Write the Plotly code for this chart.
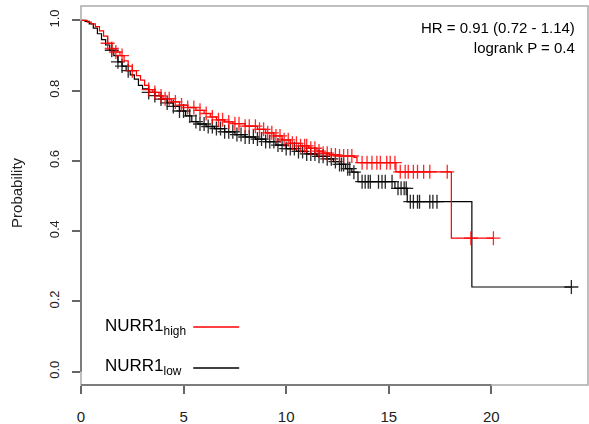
import plotly.graph_objects as go
import bisect

# ---- data ----
high_times = [0, 0.3, 0.5, 0.7, 0.9, 1.1, 1.3, 1.5, 1.7, 1.9, 2.1, 2.3, 2.5, 2.7, 2.9, 3.1, 3.3, 3.5, 3.8, 4.0,
              4.4, 4.8, 5.2, 5.6, 6.0, 6.3, 6.6, 7.0, 7.4, 8.0, 8.6, 9.0, 9.4, 9.8, 10.2, 10.7, 11.1, 11.5,
              11.8, 12.1, 12.6, 13.3, 13.45, 15.35, 18.05]
high_surv = [1.0, 0.995, 0.99, 0.982, 0.97, 0.955, 0.935, 0.92, 0.91, 0.9, 0.885, 0.87, 0.857, 0.843, 0.83,
             0.815, 0.803, 0.795, 0.785, 0.777, 0.768, 0.759, 0.752, 0.744, 0.735, 0.725, 0.717, 0.711, 0.706,
             0.699, 0.69, 0.68, 0.671, 0.66, 0.65, 0.643, 0.636, 0.628, 0.622, 0.617, 0.614, 0.61, 0.595,
             0.569, 0.38]
high_end = 20.1
high_censor = [1.3, 1.5, 1.7, 2.0, 2.5, 3.3, 3.6, 3.9, 4.1, 4.3, 4.6, 4.9, 5.2, 5.5, 5.8, 6.1, 6.4, 6.7, 6.9,
               7.2, 7.5, 7.7, 8.0, 8.2, 8.5, 8.7, 8.9, 9.1, 9.3, 9.5, 9.7, 9.9, 10.1, 10.3, 10.5, 10.7, 10.9,
               11.0, 11.2, 11.4, 11.6, 11.8, 12.0, 12.2, 12.4, 12.6, 12.8, 13.0, 13.2, 13.7, 13.94, 14.18,
               14.42, 14.59, 14.9, 15.07, 15.3, 15.56, 15.8, 15.95, 16.2, 16.4, 16.7, 17.0, 17.85, 19.0, 20.1]

low_times = [0, 0.2, 0.4, 0.6, 0.8, 1.0, 1.2, 1.4, 1.6, 1.8, 2.0, 2.2, 2.4, 2.6, 2.8, 3.0, 3.3, 3.6, 3.9, 4.2,
             4.5, 4.8, 5.1, 5.4, 5.7, 6.1, 6.5, 7.0, 7.5, 8.0, 8.5, 9.0, 9.5, 10.0, 10.5, 11.0, 11.5, 12.0,
             12.3, 12.6, 12.9, 13.2, 13.5, 15.3, 15.9, 19.05]
low_surv = [1.0, 0.997, 0.99, 0.978, 0.962, 0.945, 0.93, 0.915, 0.9, 0.882, 0.87, 0.857, 0.845, 0.833, 0.815,
            0.805, 0.795, 0.786, 0.776, 0.765, 0.755, 0.742, 0.728, 0.712, 0.705, 0.698, 0.692, 0.683, 0.675,
            0.668, 0.662, 0.655, 0.645, 0.635, 0.627, 0.62, 0.613, 0.606, 0.598, 0.59, 0.578, 0.568, 0.541,
            0.522, 0.484, 0.241]
low_end = 23.9
low_censor = [1.5, 1.8, 2.0, 2.3, 3.3, 3.6, 3.9, 4.2, 4.5, 4.8, 5.0, 5.3, 5.6, 5.8, 6.0, 6.2, 6.4, 6.6, 6.8,
              7.0, 7.2, 7.4, 7.6, 7.8, 8.0, 8.2, 8.4, 8.6, 8.8, 9.0, 9.2, 9.4, 9.6, 9.8, 10.0, 10.2, 10.4,
              10.6, 10.8, 11.0, 11.2, 11.4, 11.6, 11.8, 12.0, 12.2, 12.4, 12.6, 12.7, 12.8, 13.0, 13.1, 13.3,
              13.7, 13.85, 14.0, 14.1, 14.5, 14.67, 14.83, 15.16, 15.45, 15.6, 15.75, 15.85, 16.05, 16.2,
              16.4, 16.5, 17.0, 17.15, 17.35, 23.9]

x_ticks = [0, 5, 10, 15, 20]
y_ticks = [0.0, 0.2, 0.4, 0.6, 0.8, 1.0]
y_tick_labels = ["0.0", "0.2", "0.4", "0.6", "0.8", "1.0"]
hr_text = "HR = 0.91 (0.72 - 1.14)<br>logrank P = 0.4"

FONT = "Liberation Sans, Arial, sans-serif"


def step_xy(times, surv, end):
    xs, ys = [], []
    for i, (t, s) in enumerate(zip(times, surv)):
        if i > 0:
            xs.append(t)
            ys.append(surv[i - 1])
        xs.append(t)
        ys.append(s)
    xs.append(end)
    ys.append(surv[-1])
    return xs, ys


def lookup(times, surv, cens):
    return [surv[bisect.bisect_right(times, c) - 1] for c in cens]


fig = go.Figure()
for times, surv, end, cens, col in [
    (low_times, low_surv, low_end, low_censor, "black"),
    (high_times, high_surv, high_end, high_censor, "red"),
]:
    xs, ys = step_xy(times, surv, end)
    fig.add_trace(go.Scatter(x=xs, y=ys, mode="lines", line=dict(color=col, width=1.2),
                             showlegend=False, hoverinfo="skip"))
    fig.add_trace(go.Scatter(x=cens, y=lookup(times, surv, cens), mode="markers",
                             marker=dict(symbol="cross-thin", size=10, line=dict(color=col, width=1.3)),
                             opacity=0.85, showlegend=False, hoverinfo="skip"))

# legend drawn like R's box-less legend
fig.add_annotation(x=1.05, y=0.127, xref="x", yref="y", text="NURR1<sub>high</sub>", showarrow=False,
                   xanchor="left", yanchor="middle", font=dict(family=FONT, size=17, color="black"))
fig.add_annotation(x=1.05, y=0.012, xref="x", yref="y", text="NURR1<sub>low</sub>", showarrow=False,
                   xanchor="left", yanchor="middle", font=dict(family=FONT, size=17, color="black"))
fig.add_shape(type="line", x0=5.47, x1=7.71, y0=0.127, y1=0.127, xref="x", yref="y",
              line=dict(color="red", width=1.5))
fig.add_shape(type="line", x0=5.47, x1=7.71, y0=0.0105, y1=0.0105, xref="x", yref="y",
              line=dict(color="black", width=1.5))

fig.add_annotation(x=0.978, y=0.972, xref="paper", yref="paper", text=hr_text, showarrow=False,
                   xanchor="right", yanchor="top", align="right",
                   font=dict(family=FONT, size=15, color="black"))

fig.add_annotation(x=-0.126, y=0.507, xref="paper", yref="paper", text="Probability", showarrow=False,
                   textangle=-90, xanchor="center", yanchor="middle",
                   font=dict(family=FONT, size=15, color="#222"))

# box and axis lines
fig.add_shape(type="rect", x0=0, x1=1, y0=0, y1=1, xref="paper", yref="paper",
              line=dict(color="#aaaaaa", width=1.5))
fig.add_shape(type="line", x0=0, x1=20, y0=0, y1=0, xref="x", yref="paper",
              line=dict(color="#666666", width=1.5))
fig.add_shape(type="line", x0=0, x1=0, y0=0, y1=1, xref="paper", yref="y",
              line=dict(color="#666666", width=1.5))

fig.update_layout(
    width=589, height=424,
    margin=dict(l=81, r=1, t=6, b=39, autoexpand=False),
    plot_bgcolor="white", paper_bgcolor="white",
    xaxis=dict(range=[0, 24.71], tickvals=x_ticks, ticks="outside", ticklen=8, tickcolor="#666666",
               tickwidth=1.5, showgrid=False, zeroline=False, showline=False,
               tickfont=dict(family=FONT, size=15, color="#222"), ticklabelstandoff=10),
    yaxis=dict(range=[-0.038, 1.041], tickvals=y_ticks, ticktext=y_tick_labels, ticks="outside",
               ticklen=8, tickcolor="#666666", tickwidth=1.5, showgrid=False, zeroline=False,
               showline=False, tickangle=-90,
               tickfont=dict(family=FONT, size=13, color="#222"), ticklabelstandoff=8),
)

fig.write_html("out.html", config={"displayModeBar": False},
               post_script="document.body.style.margin='0px';document.body.style.overflow='hidden';")
